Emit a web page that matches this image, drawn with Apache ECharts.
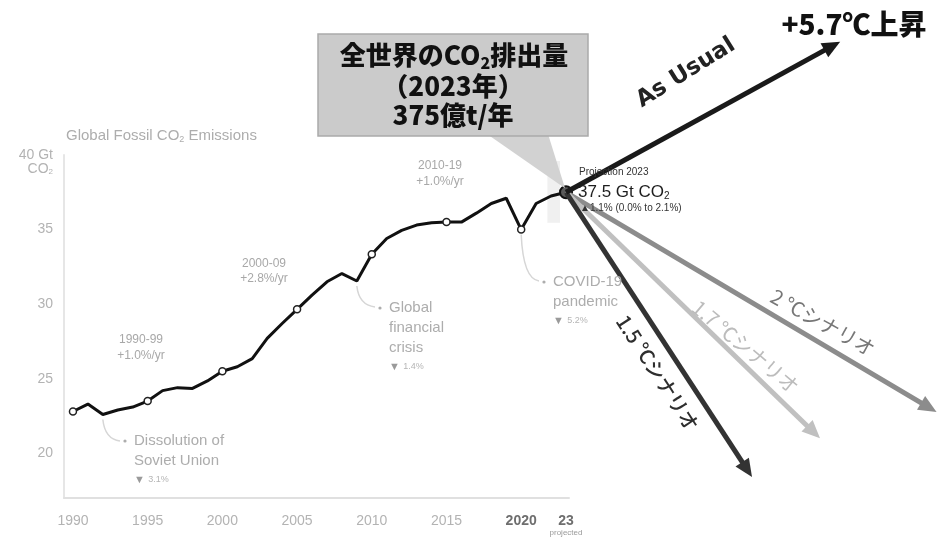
<!DOCTYPE html>
<html>
<head>
<meta charset="utf-8">
<script src="https://cdn.jsdelivr.net/npm/echarts@6/dist/echarts.min.js"></script>
<style>
  html, body { margin: 0; padding: 0; background: #fff; }
  #main { width: 938px; height: 542px; }
</style>
</head>
<body>
<div id="main"></div>
<script>
// Global fossil CO2 emissions, Gt CO2 per year (2023 is a projection)
const years = [1990, 1991, 1992, 1993, 1994, 1995, 1996, 1997, 1998, 1999,
               2000, 2001, 2002, 2003, 2004, 2005, 2006, 2007, 2008, 2009,
               2010, 2011, 2012, 2013, 2014, 2015, 2016, 2017, 2018, 2019,
               2020, 2021, 2022, 2023];
const emissions = [22.8, 23.3, 22.6, 22.9, 23.1, 23.5, 24.2, 24.4, 24.35, 24.85,
                   25.5, 25.8, 26.35, 27.7, 28.7, 29.65, 30.6, 31.5, 32.05, 31.55,
                   33.35, 34.4, 34.95, 35.3, 35.45, 35.5, 35.5, 36.1, 36.75, 37.1,
                   35.0, 36.75, 37.25, 37.5];
const markerYears = [1990, 1995, 2000, 2005, 2010, 2015, 2020];
const xTickValues = [1990, 1995, 2000, 2005, 2010, 2015, 2020, 2023];
const yTickValues = [20, 25, 30, 35, 40];

// Emission pathways drawn as arrows from the 2023 value
const scenarioNames = ['2 ℃シナリオ', '1.7 ℃シナリオ', '1.5 ℃シナリオ', 'As Usual'];
const scenarioEndYears = [2047.8, 2040.0, 2035.45, 2041.35];
const scenarioEndValues = [22.76, 21.0, 18.4, 47.6];

// Look of each arrow and where its caption sits along it
const arrowLook = [
  { color: '#8c8c8c', width: 5, text: '#777777', font: '20px "Noto Sans CJK JP"', t: 0.667, off: -19, rot: -29 },
  { color: '#c0c0c0', width: 5, text: '#bcbcbc', font: '20px "Noto Sans CJK JP"', t: 0.669, off: -14, rot: -40 },
  { color: '#333333', width: 5, text: '#2e2e2e', font: '500 20px "Noto Sans CJK JP"', t: 0.592, off: 22, rot: -57 },
  { color: '#1a1a1a', width: 5, text: '#222222', font: 'bold 23px "DejaVu Sans"', t: 0.52, off: -47, rot: 32 }
];

const last = years.length - 1;
const latin = '"Liberation Sans", "Noto Sans", sans-serif';
const cjk = '"Noto Sans CJK JP", sans-serif';

const lineData = years.map((y, i) => {
  const item = { value: [y, emissions[i]] };
  if (i === last) {
    item.symbol = 'circle';
    item.symbolSize = 12;
    item.itemStyle = { color: '#5a5a5a', borderColor: '#111', borderWidth: 2 };
  } else if (markerYears.includes(y)) {
    item.symbol = 'circle';
    item.symbolSize = 7;
    item.itemStyle = { color: '#fff', borderColor: '#222', borderWidth: 1.5 };
  } else {
    item.symbol = 'none';
  }
  return item;
});

const arrowData = scenarioNames.map((n, i) =>
  [years[last], emissions[last], scenarioEndYears[i], scenarioEndValues[i]]);

const chart = echarts.init(document.getElementById('main'), null, { renderer: 'canvas' });

const option = {
  animation: false,
  backgroundColor: '#fff',
  grid: { left: 64, right: 369, top: 155, bottom: 44, containLabel: false, outerBoundsMode: 'none' },
  xAxis: {
    type: 'value', min: 1989.4, max: 2023.2,
    axisLine: { show: true, lineStyle: { color: '#e0e0e0', width: 2 } },
    axisTick: { show: false },
    splitLine: { show: false },
    axisLabel: {
      customValues: xTickValues,
      margin: 16,
      color: '#b3b3b3', fontSize: 14, fontFamily: latin,
      formatter: v => v === 2023 ? '{b|23}\n{p|projected}' : (v === 2020 ? '{b|2020}' : String(v)),
      rich: {
        b: { fontSize: 14, fontWeight: 'bold', color: '#6e6e6e', fontFamily: latin },
        p: { fontSize: 8, color: '#9a9a9a', fontFamily: latin, lineHeight: 10 }
      }
    }
  },
  yAxis: {
    type: 'value', min: 17, max: 40,
    axisLine: { show: true, lineStyle: { color: '#e6e6e6', width: 2 } },
    axisTick: { show: false },
    splitLine: { show: false },
    axisLabel: {
      customValues: yTickValues,
      margin: 11,
      color: '#b3b3b3', fontSize: 14, fontFamily: latin,
      formatter: v => v === 40 ? '{t|40 Gt}\n{n|CO}{s|2}' : '{n|' + v + '}',
      rich: {
        t: { fontSize: 14, color: '#b3b3b3', fontFamily: latin, padding: [14, 0, 0, 0] },
        n: { fontSize: 14, color: '#b3b3b3', fontFamily: latin },
        s: { fontSize: 8, color: '#b3b3b3', fontFamily: latin, verticalAlign: 'bottom', padding: [6, 0, 0, 0] }
      }
    }
  },
  series: [
    {
      type: 'line',
      data: lineData,
      z: 3,
      lineStyle: { color: '#111', width: 3 },
      itemStyle: { color: '#111' },
      markArea: {
        silent: true,
        itemStyle: { color: 'rgba(0,0,0,0.06)' },
        data: [[{ coord: [2021.75, 39.6] }, { coord: [2022.6, 35.45] }]]
      }
    },
    {
      type: 'custom',
      z: 5,
      clip: false,
      data: arrowData,
      encode: { x: [0, 2], y: [1, 3] },
      renderItem: (params, api) => {
        const i = params.dataIndex;
        const look = arrowLook[i];
        const p0 = api.coord([api.value(0), api.value(1)]);
        const p1 = api.coord([api.value(2), api.value(3)]);
        const dx = p1[0] - p0[0], dy = p1[1] - p0[1];
        const len = Math.hypot(dx, dy);
        const ux = dx / len, uy = dy / len;
        const nx = -uy, ny = ux;
        const head = 18, hw = 8;
        const bx = p1[0] - ux * head, by = p1[1] - uy * head;
        const lx = p0[0] + ux * len * look.t + nx * look.off;
        const ly = p0[1] + uy * len * look.t + ny * look.off;
        return {
          type: 'group',
          children: [
            { type: 'line', shape: { x1: p0[0], y1: p0[1], x2: bx + ux * 2, y2: by + uy * 2 },
              style: { stroke: look.color, lineWidth: look.width } },
            { type: 'polygon',
              shape: { points: [p1, [bx + nx * hw, by + ny * hw], [bx - nx * hw, by - ny * hw]] },
              style: { fill: look.color } },
            { type: 'text', x: lx, y: ly, rotation: look.rot * Math.PI / 180,
              style: { text: scenarioNames[i], font: look.font, fill: look.text,
                       align: 'center', verticalAlign: 'middle' } }
          ]
        };
      }
    }
  ]
};

chart.setOption(option);

// Annotations that hang off particular points of the line
const px = (y) => chart.convertToPixel({ gridIndex: 0 }, [y, emissions[years.indexOf(y)]]);
const pSoviet = px(1992), pGfc = px(2009), pCovid = px(2020), pNow = px(2023);

const gray = '#adadad';
const smallText = (x, y, text, size, color, align) => ({
  type: 'text', x, y, z: 20,
  style: { text, font: size + 'px ' + latin, fill: color, align: align || 'center', verticalAlign: 'middle' }
});
const leader = (p, ex, ey) => ({
  type: 'bezierCurve', z: 2,
  shape: { x1: p[0], y1: p[1] + 5, x2: ex, y2: ey, cpx1: p[0] + 2, cpy1: ey - 2 },
  style: { stroke: '#d6d6d6', lineWidth: 1.5, fill: null }
});
const eventNote = (bx, by, lines, pct) => {
  const out = [{ type: 'circle', z: 20, shape: { cx: bx, cy: by, r: 1.6 }, style: { fill: gray } }];
  lines.forEach((l, k) => out.push(smallText(bx + 9, by + k * 20, l, 15, gray, 'left')));
  out.push({
    type: 'text', x: bx + 9, y: by + lines.length * 20 - 1, z: 20,
    style: {
      text: '{a|▼} {b|' + pct + '}', verticalAlign: 'middle', align: 'left',
      rich: { a: { fontSize: 11, fill: '#9a9a9a', fontFamily: latin }, b: { fontSize: 9, fill: '#b5b5b5', fontFamily: latin } }
    }
  });
  return out;
};

const boxFont = '900 26px ' + cjk;

const elements = [
  // chart title
  { type: 'text', x: 66, y: 136, z: 20,
    style: { text: 'Global Fossil CO{s|2} Emissions', font: '15px ' + latin, fill: gray, verticalAlign: 'middle',
             rich: { s: { fontSize: 9, fill: gray, fontFamily: latin, padding: [8, 0, 0, 0] } } } },
  // decade growth rates
  smallText(141, 340, '1990-99', 12, '#a8a8a8'),
  smallText(141, 356, '+1.0%/yr', 12, '#a8a8a8'),
  smallText(264, 264, '2000-09', 12, '#a8a8a8'),
  smallText(264, 279, '+2.8%/yr', 12, '#a8a8a8'),
  smallText(440, 166, '2010-19', 12, '#a8a8a8'),
  smallText(440, 182, '+1.0%/yr', 12, '#a8a8a8'),
  // event leaders and notes
  leader(pSoviet, 120, 441),
  leader(pGfc, 375, 307),
  leader(pCovid, 539, 281),
  ...eventNote(125, 441, ['Dissolution of', 'Soviet Union'], '3.1%'),
  ...eventNote(380, 308, ['Global', 'financial', 'crisis'], '1.4%'),
  ...eventNote(544, 282, ['COVID-19', 'pandemic'], '5.2%'),
  // 2023 projection
  smallText(579, 172, 'Projection 2023', 10, '#333', 'left'),
  { type: 'text', x: 578, y: 192, z: 20,
    style: { text: '37.5 Gt CO{s|2}', font: '17px ' + latin, fill: '#1e1e1e', verticalAlign: 'middle',
             rich: { s: { fontSize: 10, fill: '#1e1e1e', fontFamily: latin, padding: [9, 0, 0, 0] } } } },
  { type: 'text', x: 580, y: 208, z: 20,
    style: { text: '▲1.1% (0.0% to 2.1%)', font: '10px ' + latin, fill: '#333', verticalAlign: 'middle' } },
  // callout for world emissions
  { type: 'polygon', z: 8,
    shape: { points: [[487, 134], [548, 134], [pNow[0] - 1, pNow[1] - 4]] },
    style: { fill: '#d2d2d2' } },
  { type: 'rect', z: 9, shape: { x: 318, y: 34, width: 270, height: 102 },
    style: { fill: '#cbcbcb', stroke: '#ababab', lineWidth: 1.5 } },
  { type: 'text', x: 454, y: 55, z: 10,
    style: { text: '{m|全世界のCO}{s|2}{m|排出量}', align: 'center', verticalAlign: 'middle',
             rich: { m: { font: boxFont, fill: '#111' },
                     s: { font: '900 16px ' + cjk, fill: '#111', padding: [15, 0, 0, 0] } } } },
  { type: 'text', x: 453, y: 86, z: 10,
    style: { text: '（2023年）', font: boxFont, fill: '#111', align: 'center', verticalAlign: 'middle' } },
  { type: 'text', x: 453, y: 115, z: 10,
    style: { text: '375億t/年', font: boxFont, fill: '#111', align: 'center', verticalAlign: 'middle' } },
  // business-as-usual outcome
  { type: 'text', x: 854, y: 24, z: 10,
    style: { text: '+5.7℃上昇', font: '900 28px ' + cjk, fill: '#111', align: 'center', verticalAlign: 'middle' } }
];

chart.setOption({ graphic: { elements } });
</script>
</body>
</html>
